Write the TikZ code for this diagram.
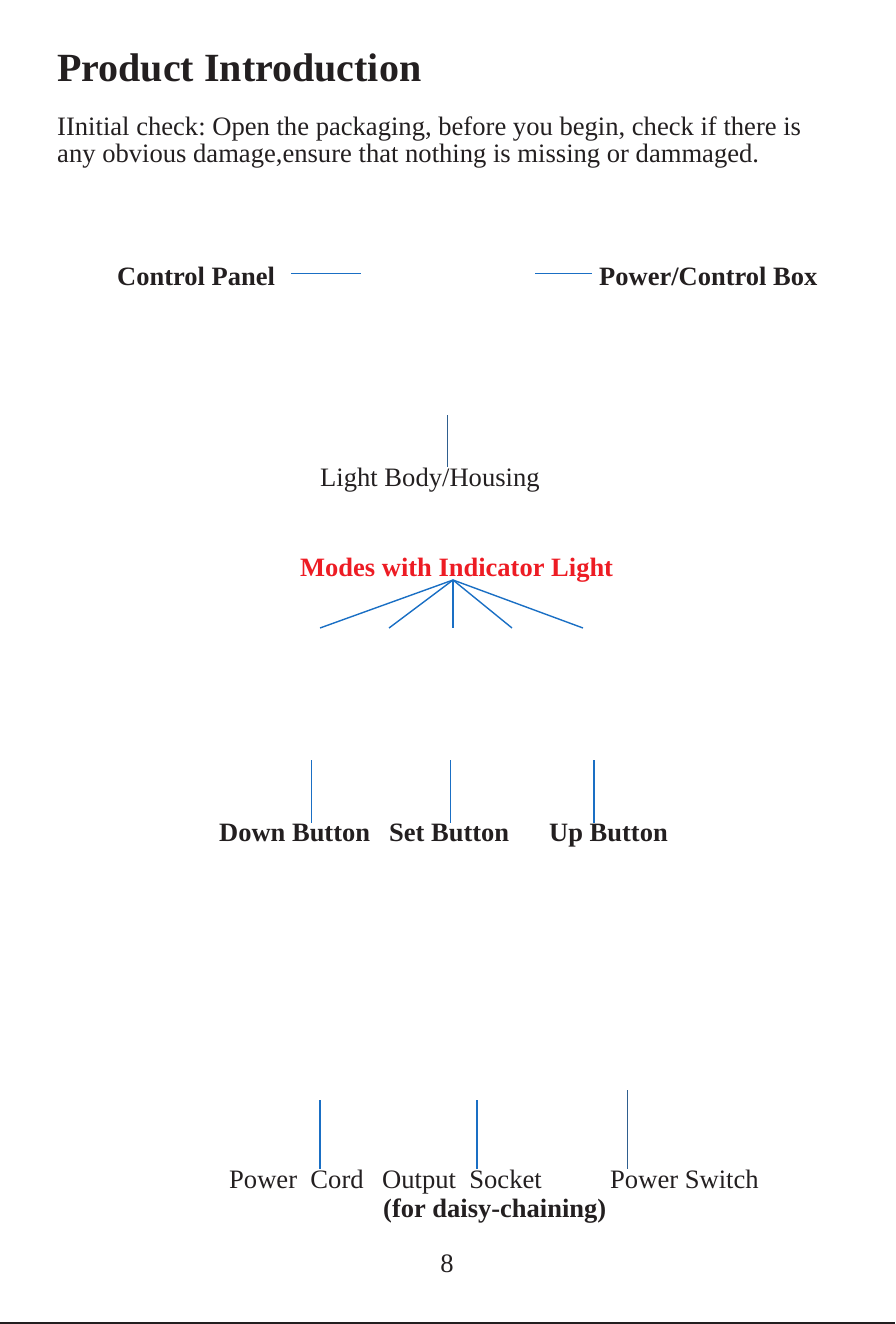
\documentclass[tikz,border=0pt]{standalone}
\usepackage{fontspec}
\setmainfont{Liberation Serif}
\usepackage{xcolor}
\definecolor{inkblack}{HTML}{231F20}
\definecolor{leaderblue}{HTML}{1A6FC4}
\definecolor{leaderdark}{HTML}{2F5F8F}
\definecolor{modered}{HTML}{ED1C24}
\frenchspacing
\tikzset{
    txt/.style={inner sep=0pt, anchor=base west, text=inkblack, font=\fontsize{26.6}{30}\selectfont},
    btxt/.style={txt, font=\bfseries\fontsize{26.5}{30}\selectfont},
    leader/.style={draw=leaderblue, line width=1pt},
    leaderthick/.style={draw=leaderblue, line width=2pt},
    leaderthin/.style={draw=leaderdark, line width=0.9pt}
}
\begin{document}
\begin{tikzpicture}[x=1pt, y=-1pt]
    \useasboundingbox (0,0) rectangle (895,1324);
    \node (title) at (57,82) [txt, font=\bfseries\fontsize{40}{44}\selectfont] {Product Introduction};
    \node (line1) at (57,136) [txt] {IInitial check: Open the packaging, before you begin, check if there is};
    \node (line2) at (57,163) [txt] {any obvious damage,ensure that nothing is missing or dammaged.};

    \node (panel) at (117,285) [btxt] {Control Panel};
    \node (box) at (599,285) [btxt] {Power/Control Box};
    \coordinate (panel tip) at (361,273);
    \coordinate (box tip) at (535,273);
    \draw[leader] ([xshift=16pt]panel.east |- panel tip) -- (panel tip);
    \draw[leader] (box tip) -- ([xshift=-7pt]box.west |- box tip);

    \node (housing) at (320,486) [txt] {Light Body/Housing};
    \coordinate (housing tip) at (447,415);
    \draw[leaderthin] (housing tip) -- (housing tip |- housing.north);

    \node (modes) at (300,576) [btxt, text=modered] {Modes with Indicator Light};
    \coordinate (apex) at (453,580);
    \foreach \ex [count=\i] in {320,389,453,512,583} {
        \coordinate (mode\i) at (\ex,628);
        \draw[leader, line width=1.4pt] (apex) -- (mode\i);
    }

    \node (down) at (219,841) [btxt] {Down Button};
    \node (set) at (389,841) [btxt] {Set Button};
    \node (up) at (549,841) [btxt] {Up Button};
    \coordinate (down tip) at (311,760);
    \coordinate (set tip) at (450,760);
    \coordinate (up tip) at (594,760);
    \draw[leader] (down tip) -- (down tip |- down.north);
    \draw[leader] (set tip) -- (set tip |- set.north);
    \draw[leaderthick] (up tip) -- (up tip |- up.north);

    \node (cord) at (229,1188) [txt] {Power\ \ Cord};
    \node (socket) at (382,1188) [txt] {Output\ \ Socket};
    \node (switch) at (610,1188) [txt] {Power Switch};
    \node (daisy) at (383,1217) [btxt] {(for daisy-chaining)};
    \coordinate (cord tip) at (320,1100);
    \coordinate (socket tip) at (477,1100);
    \coordinate (switch tip) at (627,1090);
    \draw[leaderthick] (cord tip) -- (cord tip |- cord.north);
    \draw[leaderthick] (socket tip) -- (socket tip |- socket.north);
    \draw[leaderthin] (switch tip) -- (switch tip |- switch.north);

    \node (page) at (447,1272) [txt, anchor=base] {8};
    \draw[line width=2.5pt, inkblack] (0,1323) -- (895,1323);
\end{tikzpicture}
\end{document}
